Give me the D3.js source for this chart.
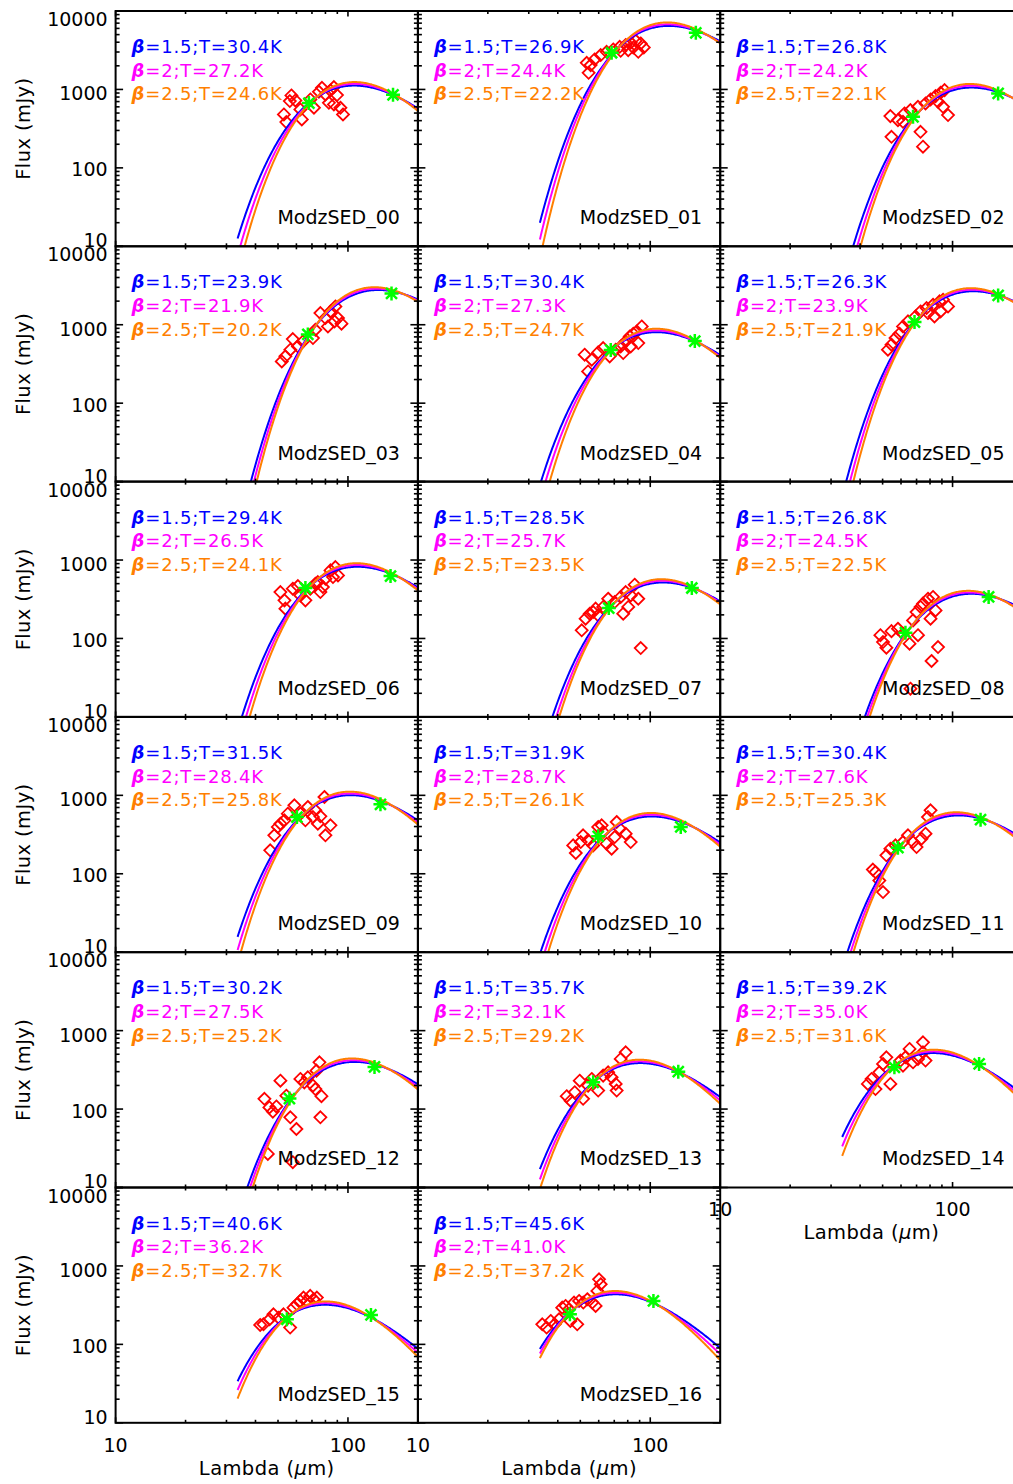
<!DOCTYPE html>
<html><head><meta charset="utf-8">
<script src="https://cdn.jsdelivr.net/npm/d3@7"></script>
<style>
body{margin:0;background:#fff;}
svg{display:block;}
text{font-family:"DejaVu Sans",sans-serif;fill:#000;}
</style>
</head><body>
<svg id="chart" width="1013" height="1484"></svg>
<script>
// ---------------- data ----------------
const panelNames = ["ModzSED_00","ModzSED_01","ModzSED_02","ModzSED_03","ModzSED_04","ModzSED_05",
  "ModzSED_06","ModzSED_07","ModzSED_08","ModzSED_09","ModzSED_10","ModzSED_11",
  "ModzSED_12","ModzSED_13","ModzSED_14","ModzSED_15","ModzSED_16"];
const betas = [1.5, 2, 2.5];
const betaLabels = ["1.5", "2", "2.5"];
const temps = [
  [30.4,27.2,24.6],[26.9,24.4,22.2],[26.8,24.2,22.1],
  [23.9,21.9,20.2],[30.4,27.3,24.7],[26.3,23.9,21.9],
  [29.4,26.5,24.1],[28.5,25.7,23.5],[26.8,24.5,22.5],
  [31.5,28.4,25.8],[31.9,28.7,26.1],[30.4,27.6,25.3],
  [30.2,27.5,25.2],[35.7,32.1,29.2],[39.2,35.0,31.6],
  [40.6,36.2,32.7],[45.6,41.0,37.2]];
const greenLambda = [
  [67.9,156.3],[68.2,157.1],[67.6,157.1],[67.2,154.0],[67.6,155.5],[68.6,157.1],
  [65.6,152.5],[66.3,151.0],[62.7,143.0],[60.3,138.0],[59.7,135.3],[58.2,132.0],
  [56.0,130.1],[56.8,132.0],[56.2,130.1],[54.6,125.6],[45.1,103.2]];
const greenFlux = [
  [670,855],[2935,5278],[448,889],[753,2509],[475,619],[1081,2366],
  [440,625],[244,440],[118.5,338],[529,768],[300,395],[215,490],
  [136,344],[219,300],[341,376],[209,237],[242,358]];
const redLambda = [
  [57.1,56.2,59.4,53.0,54.3,62.4,63.3,68.9,75.0,77.3,80.0,84.1,87.0,89.7,82.8,87.0,92.8,95.2,71.4],
  [53.3,54.3,57.6,61.2,64.9,69.3,73.9,78.4,82.4,86.6,91.0,93.8,88.8,84.5,80.4,74.6,55.4],
  [54.0,58.2,62.1,65.9,71.0,76.5,80.4,84.5,88.8,92.4,86.6,91.0,95.6,54.6,72.8,74.6,61.2],
  [51.9,53.8,56.5,57.9,60.9,64.0,72.4,76.1,80.0,84.1,88.3,90.6,93.8,87.5,82.0,70.7],
  [52.2,54.0,56.0,59.7,62.7,66.9,71.0,74.6,78.4,81.6,84.5,87.5,91.9,88.8,82.4,76.5],
  [52.7,54.6,56.8,59.1,61.2,64.3,69.3,72.8,77.3,82.4,87.9,91.0,95.6,88.8,83.6,78.4],
  [51.2,53.3,53.8,57.9,60.9,62.4,65.6,68.9,72.4,76.1,78.0,80.0,84.1,88.3,86.2,90.6,74.2],
  [50.7,52.7,54.9,56.8,59.7,62.7,65.9,70.3,74.6,78.4,82.4,85.7,88.8,80.4,76.5,91.0,58.2],
  [48.9,50.2,51.9,54.6,58.2,65.3,67.6,70.0,74.6,78.4,82.4,84.5,80.4,71.0,86.6,81.2,65.9,61.2,72.8],
  [46.3,48.2,49.9,51.2,53.3,55.1,58.8,62.4,65.6,67.2,70.7,74.2,76.1,79.2,80.0,84.1,72.4],
  [46.6,47.8,50.2,51.4,54.0,56.8,59.7,62.7,64.9,68.2,70.3,71.7,73.9,78.4,82.4,61.8],
  [45.4,48.4,50.2,51.9,54.0,56.8,61.2,64.3,67.6,70.0,73.5,76.5,78.4,80.4,46.6],
  [43.7,45.9,47.5,49.2,51.2,54.3,56.5,60.0,62.4,64.9,67.2,70.7,73.2,75.4,72.4,76.9,76.1,45.2,57.9],
  [43.7,45.4,47.3,49.7,51.4,54.0,56.0,59.7,62.7,65.9,68.2,71.0,71.7,74.6,78.4],
  [43.2,44.8,46.6,48.4,50.2,51.9,54.0,59.7,62.7,65.3,67.6,71.0,74.6,76.5,74.6,61.2],
  [41.9,43.3,46.0,47.8,52.8,56.4,58.3,60.3,62.3,64.4,66.6,68.8,71.1,73.5,50.3],
  [34.3,35.8,37.3,38.8,40.5,41.8,43.2,44.7,47.0,48.5,49.4,51.5,53.6,56.3,58.2,59.2,61.2,60.2,45.3]];
const redFlux = [
  [839,710,724,480,383,556,415,746,934,1050,863,971,1071,847,676,644,584,480,584],
  [2188,1631,2412,2740,3021,3236,3499,3675,3937,4174,3859,3431,3021,3431,3172,3112,2042],
  [457,406,494,545,601,663,746,822,907,980,696,601,471,249,288,186,387],
  [341,395,480,657,529,613,863,1409,1216,1479,1713,1216,1030,1103,952,676],
  [415,254,358,444,504,395,480,529,613,710,768,822,952,584,529,435],
  [480,556,676,768,952,1103,1277,1479,1631,1798,1984,2084,1713,1479,1277,1409],
  [391,306,240,431,466,354,306,431,499,391,453,578,738,814,607,637,524],
  [127,179,207,217,197,252,321,291,338,391,354,485,321,252,207,75.5,240],
  [110,90,76.2,124,133,85.8,170,217,278,321,338,228,179,110,77.8,51.6,22.9,115,252],
  [199,309,395,435,480,584,746,584,480,710,529,435,540,952,309,415,644],
  [230,184,254,309,267,230,395,341,242,209,294,457,376,324,254,415],
  [113,82,58.5,172,209,230,254,309,254,219,280,324,529,644,105],
  [135,105,92.8,108,230,148,78.5,55.7,242,219,254,199,309,395,180,146,78.5,26.8,21.0],
  [146,128,164,230,135,199,242,172,267,294,254,209,172,435,529],
  [209,242,180,294,376,457,209,415,457,584,395,435,529,415,710,358],
  [177,180,209,242,242,164,294,324,358,395,358,415,376,395,219],
  [180,164,199,180,209,294,309,280,341,180,358,341,376,341,309,480,584,676,199]];
const yTickLabels = ["10","100","1000","10000"];
const xTickLabels = ["10","100"];
const curveLambdaRange = [33.5, 200];
const yTitle = "Flux (mJy)";
const xTitleA = "Lambda (", xTitleMu = "\u03bc", xTitleB = "m)";

// ---------------- layout ----------------
const W = 302.3, H = 235.3, left0 = 115.6, top0 = 11;
const curveColors = ["#0000ff", "#ff00ff", "#ff7f00"];
const svg = d3.select("#chart");
const x = d3.scaleLog().domain([10, 200]).range([0, W]);
const y = d3.scaleLog().domain([10, 10000]).range([H, 0]);
const yLabelOffset = {"10": -6, "100": 1.5, "1000": 4, "10000": 8};

const hc_k = 14387.8; // h c / k in micron*K
function greyShape(lam, beta, T) { // modified blackbody in F_nu, wavelength in micron
  return Math.pow(lam, -(3 + beta)) / (Math.exp(hc_k / (lam * T)) - 1);
}

const lamGrid = d3.range(0, 201).map(i => curveLambdaRange[0] * Math.pow(curveLambdaRange[1] / curveLambdaRange[0], i / 200));

const defs = svg.append("defs");
const isBottom = i => i >= 14;

panelNames.forEach((name, i) => {
  const col = i % 3, row = Math.floor(i / 3);
  const gx = left0 + col * W, gy = top0 + row * H;
  const g = svg.append("g").attr("transform", `translate(${gx},${gy})`);
  defs.append("clipPath").attr("id", "clip" + i)
    .append("rect").attr("x", 0).attr("y", 0).attr("width", W).attr("height", H);

  // red diamonds
  const pts = redLambda[i].map((l, k) => [l, redFlux[i][k]]);
  g.append("g").selectAll("path").data(pts).join("path")
    .attr("d", d => {
      const cx = x(d[0]), cy = y(d[1]), r = 6;
      return `M${cx},${cy - r}L${cx + r},${cy}L${cx},${cy + r}L${cx - r},${cy}Z`;
    })
    .attr("fill", "none").attr("stroke", "#ff0000").attr("stroke-width", 1.8);

  // model curves normalised to the green photometry
  const line = d3.line().x(d => x(d[0])).y(d => y(d[1]));
  betas.forEach((b, j) => {
    const T = temps[i][j];
    const logA = d3.mean(greenLambda[i].map((l, k) => Math.log10(greenFlux[i][k]) - Math.log10(greyShape(l, b, T))));
    const data = lamGrid.map(l => [l, Math.pow(10, logA) * greyShape(l, b, T)]);
    g.append("path").datum(data).attr("d", line)
      .attr("fill", "none").attr("stroke", curveColors[j]).attr("stroke-width", 2)
      .attr("clip-path", `url(#clip${i})`);
  });

  // green asterisks
  const gp = greenLambda[i].map((l, k) => [l, greenFlux[i][k]]);
  g.append("g").selectAll("path").data(gp).join("path")
    .attr("d", d => {
      const cx = x(d[0]), cy = y(d[1]), a = 7, b2 = 5.5;
      return `M${cx - a},${cy}L${cx + a},${cy}M${cx},${cy - a}L${cx},${cy + a}` +
             `M${cx - b2},${cy - b2}L${cx + b2},${cy + b2}M${cx - b2},${cy + b2}L${cx + b2},${cy - b2}`;
    })
    .attr("fill", "none").attr("stroke", "#00ff00").attr("stroke-width", 2.5);

  // frame
  g.append("rect").attr("x", 0).attr("y", 0).attr("width", W).attr("height", H)
    .attr("fill", "none").attr("stroke", "#000").attr("stroke-width", 2);

  // ticks
  const tg = g.append("g").attr("stroke", "#000").attr("stroke-width", 1.6);
  y.ticks().forEach(v => {
    const major = Math.abs(Math.log10(v) - Math.round(Math.log10(v))) < 1e-9;
    const len = major ? 7.5 : 4;
    const yy = y(v);
    tg.append("line").attr("x1", 0).attr("x2", len).attr("y1", yy).attr("y2", yy);
    tg.append("line").attr("x1", W).attr("x2", W - len).attr("y1", yy).attr("y2", yy);
  });
  x.ticks().forEach(v => {
    const major = Math.abs(Math.log10(v) - Math.round(Math.log10(v))) < 1e-9;
    const len = major ? 5.5 : 3;
    const xx = x(v);
    tg.append("line").attr("x1", xx).attr("x2", xx).attr("y1", H).attr("y2", H - len);
    tg.append("line").attr("x1", xx).attr("x2", xx).attr("y1", 0).attr("y2", len);
  });

  // y tick labels and title for left column
  if (col === 0) {
    yTickLabels.forEach(t => {
      g.append("text").attr("x", -8).attr("y", y(+t) + yLabelOffset[t])
        .attr("text-anchor", "end").attr("dominant-baseline", "central")
        .attr("font-size", 19).text(t);
    });
    g.append("text").attr("transform", `translate(${-86},${H / 2}) rotate(-90)`)
      .attr("text-anchor", "middle").attr("font-size", 19.5).attr("letter-spacing", 0.4).text(yTitle);
  }
  // x tick labels and title for bottom panels
  if (isBottom(i)) {
    xTickLabels.forEach(t => {
      g.append("text").attr("x", x(+t)).attr("y", H + 29)
        .attr("text-anchor", "middle").attr("font-size", 19).text(t);
    });
    const tt = g.append("text").attr("x", W / 2).attr("y", H + 52)
      .attr("text-anchor", "middle").attr("font-size", 19.5).attr("letter-spacing", 0.4);
    tt.append("tspan").text(xTitleA);
    tt.append("tspan").attr("font-style", "italic").text(xTitleMu);
    tt.append("tspan").text(xTitleB);
  }

  // legend text
  betas.forEach((b, j) => {
    const t = g.append("text").attr("x", 16).attr("y", 42 + j * 23.7)
      .attr("font-size", 18).attr("letter-spacing", 0.8).attr("fill", curveColors[j]);
    t.append("tspan").attr("font-weight", "bold").attr("font-style", "italic").attr("fill", curveColors[j]).text("\u03b2");
    t.append("tspan").attr("fill", curveColors[j]).text(`=${betaLabels[j]};T=${temps[i][j].toFixed(1)}K`);
  });

  // panel name
  g.append("text").attr("x", W - 18).attr("y", H - 22)
    .attr("text-anchor", "end").attr("font-size", 19).text(name);
});
</script>
</body></html>
